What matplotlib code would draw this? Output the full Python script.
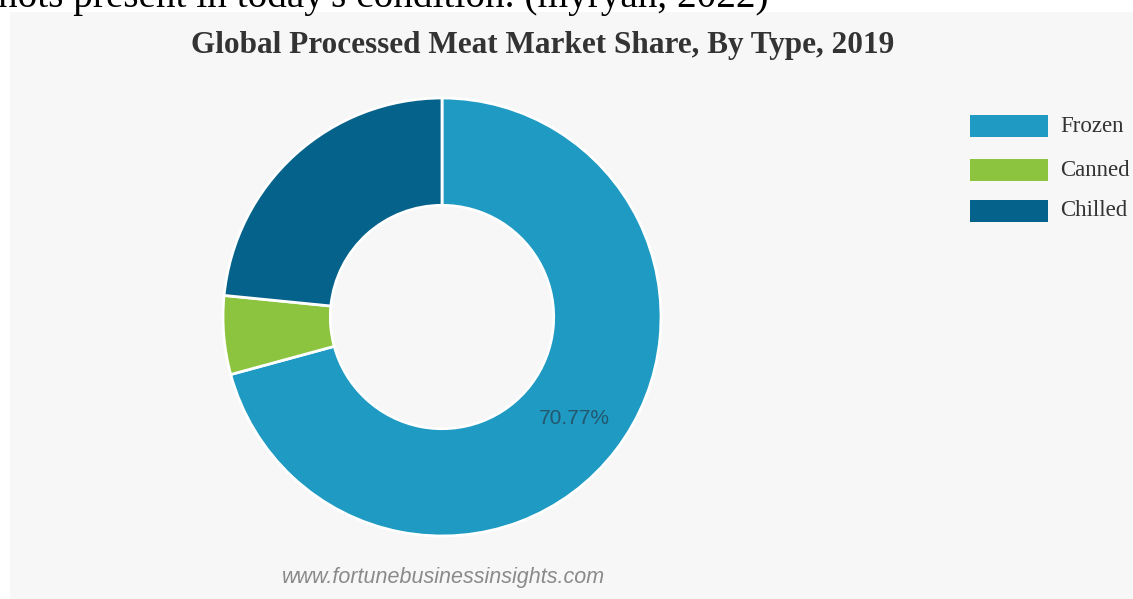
import matplotlib.pyplot as plt
from matplotlib.patches import Rectangle

types = ["Frozen", "Canned", "Chilled"]
shares = [70.77, 5.80, 23.43]
colors = ["#1e9ac3", "#8cc43f", "#05628a"]

title = "Global Processed Meat Market Share, By Type, 2019"
source = "www.fortunebusinessinsights.com"
caption = "nots present in today's condition. (myryan, 2022)"

W, H = 1133, 599
fig = plt.figure(figsize=(W / 100, H / 100), dpi=100, facecolor="white")

# light grey panel behind the chart
fig.patches.append(Rectangle((10 / W, 0), 1 - 10 / W, (H - 12) / H,
                             transform=fig.transFigure, facecolor="#f7f7f7",
                             edgecolor="none", zorder=-5))

# clipped caption line from the surrounding document
fig.text(-2 / W, 1 - 7 / H, caption, family="Liberation Serif", fontsize=28.3,
         color="black", va="baseline", ha="left")

fig.text(543 / W, 1 - 46 / H, title, family="Liberation Serif",
         fontweight="bold", fontsize=22.5, color="#333333",
         ha="center", va="center")

cx, cy, r = 442, 317, 219
ax = fig.add_axes([(cx - r) / W, (H - cy - r) / H, 2 * r / W, 2 * r / H])

wedges, texts, autotexts = ax.pie(
    shares,
    colors=colors,
    startangle=90,
    counterclock=False,
    radius=1,
    wedgeprops=dict(width=0.49, edgecolor="white", linewidth=2),
    autopct=lambda p: f"{p:.2f}%" if p > 50 else "",
    pctdistance=0.76,
    textprops=dict(family="Liberation Sans", fontsize=15, color="#24566e"),
)
ax.set_xlim(-1, 1)
ax.set_ylim(-1, 1)
ax.set_aspect("equal")
ax.axis("off")

# legend drawn as boxes + labels on the right
for i, (name, col) in enumerate(zip(types, colors)):
    y = [126, 170, 211][i]
    fig.patches.append(Rectangle((970 / W, 1 - (y + 11) / H), 78 / W, 22 / H,
                                 transform=fig.transFigure, facecolor=col,
                                 edgecolor="none"))
    fig.text(1060 / W, 1 - y / H, name, family="Liberation Serif",
             fontsize=16.5, color="#333333", va="center", ha="left")

fig.text(443 / W, 1 - 578 / H, source, family="Liberation Sans",
         style="italic", fontsize=15.5, color="#8a8a8a",
         ha="center", va="center")

fig.savefig("out.png", dpi=100, facecolor="white")
